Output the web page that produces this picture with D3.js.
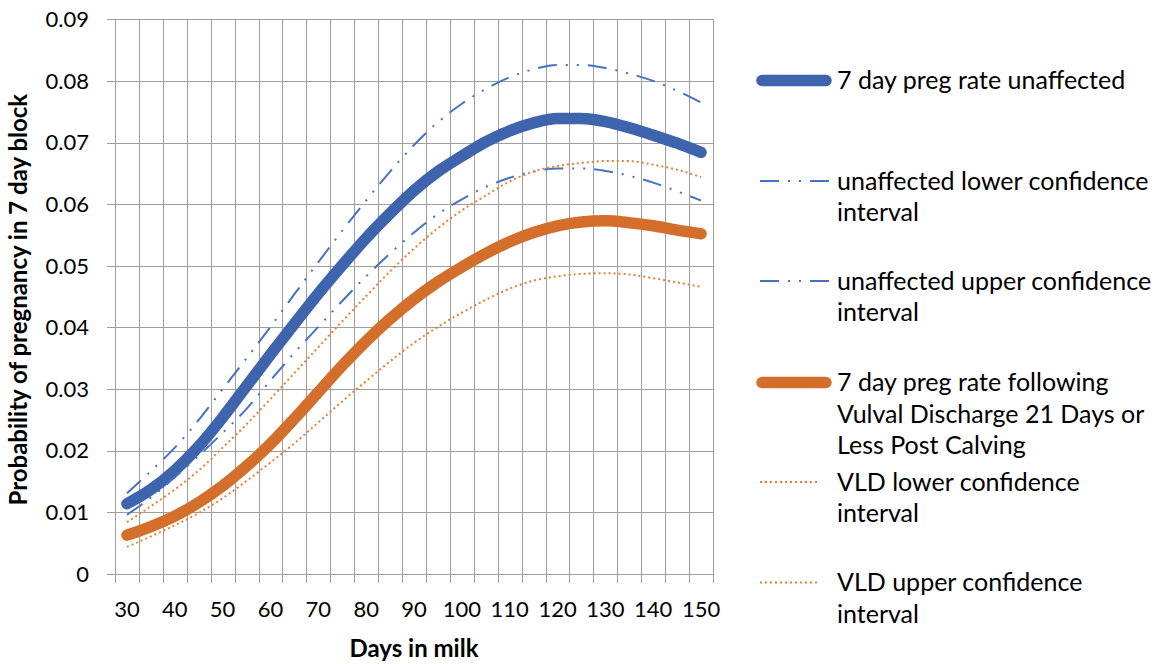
<!DOCTYPE html>
<html>
<head>
<meta charset="utf-8">
<script src="https://cdn.jsdelivr.net/npm/d3@7"></script>
<style>
  body { margin: 0; background: #fff; }
  svg { display: block; }
  text { font-family: Lato, "Open Sans", sans-serif; fill: #000; }
</style>
</head>
<body>
<svg id="chart" width="1161" height="664"></svg>
<script>
// Days in milk (one category every 5 days)
const days = [30, 35, 40, 45, 50, 55, 60, 65, 70, 75, 80, 85, 90, 95, 100, 105, 110, 115, 120, 125, 130, 135, 140, 145, 150];
const xLabels = [30, 40, 50, 60, 70, 80, 90, 100, 110, 120, 130, 140, 150];
const yTicks = [0, 0.01, 0.02, 0.03, 0.04, 0.05, 0.06, 0.07, 0.08, 0.09];

// Probability of pregnancy in a 7 day block
const unaffected      = [0.0114, 0.0137, 0.0168, 0.0207, 0.0254, 0.0305, 0.0356, 0.0406, 0.0455, 0.0501, 0.0545, 0.0585, 0.0622, 0.0653, 0.0678, 0.0701, 0.0719, 0.0732, 0.0739, 0.0739, 0.0734, 0.0724, 0.0712, 0.0699, 0.0684];
const unaffectedLower = [0.0096, 0.0124, 0.0157, 0.0192, 0.0229, 0.0268, 0.0314, 0.0359, 0.0401, 0.0443, 0.0483, 0.0520, 0.0554, 0.0584, 0.0608, 0.0628, 0.0643, 0.0653, 0.0658, 0.0658, 0.0654, 0.0646, 0.0635, 0.0621, 0.0606];
const unaffectedUpper = [0.0131, 0.0167, 0.0205, 0.0250, 0.0300, 0.0350, 0.0401, 0.0454, 0.0506, 0.0557, 0.0606, 0.0653, 0.0696, 0.0733, 0.0763, 0.0787, 0.0806, 0.0819, 0.0826, 0.0826, 0.0821, 0.0812, 0.0800, 0.0784, 0.0765];
const vld             = [0.0063, 0.0077, 0.0094, 0.0116, 0.0143, 0.0175, 0.0211, 0.0252, 0.0295, 0.0338, 0.0378, 0.0414, 0.0446, 0.0474, 0.0498, 0.0520, 0.0539, 0.0554, 0.0565, 0.0571, 0.0573, 0.0570, 0.0565, 0.0558, 0.0552];
const vldLower        = [0.0044, 0.0061, 0.0079, 0.0099, 0.0123, 0.0151, 0.0181, 0.0212, 0.0246, 0.0280, 0.0313, 0.0345, 0.0375, 0.0401, 0.0424, 0.0445, 0.0463, 0.0476, 0.0483, 0.0487, 0.0488, 0.0486, 0.0480, 0.0473, 0.0466];
const vldUpper        = [0.0084, 0.0110, 0.0137, 0.0168, 0.0205, 0.0243, 0.0284, 0.0326, 0.0368, 0.0410, 0.0451, 0.0491, 0.0528, 0.0561, 0.0590, 0.0614, 0.0637, 0.0653, 0.0662, 0.0667, 0.0670, 0.0670, 0.0664, 0.0656, 0.0644];

const legendLabels = [
  ["7 day preg rate unaffected"],
  ["unaffected lower confidence", "interval"],
  ["unaffected upper confidence", "interval"],
  ["7 day preg rate following", "Vulval Discharge 21 Days or", "Less Post Calving"],
  ["VLD lower confidence", "interval"],
  ["VLD upper confidence", "interval"]
];

// Line styles, in drawing order
const BLUE = "#3e64ad", BLUE_LIGHT = "#4472c4", ORANGE = "#d46f2b", ORANGE_LIGHT = "#ed7d31";
const DASH_DOT_DOT = "19 9 2 9 2 9";
const DOTTED = "2 3";
const series = [
  { values: unaffected,      color: BLUE,         width: 11.5, dash: null,         cap: "round" },
  { values: unaffectedLower, color: BLUE_LIGHT,   width: 2,    dash: DASH_DOT_DOT, cap: "butt" },
  { values: unaffectedUpper, color: BLUE_LIGHT,   width: 2,    dash: DASH_DOT_DOT, cap: "butt" },
  { values: vld,             color: ORANGE,       width: 11.5, dash: null,         cap: "round" },
  { values: vldLower,        color: ORANGE_LIGHT, width: 2,    dash: DOTTED,       cap: "butt" },
  { values: vldUpper,        color: ORANGE_LIGHT, width: 2,    dash: DOTTED,       cap: "butt" }
];

const svg = d3.select("#chart");
const plot = { left: 115, right: 713, top: 19.3, bottom: 574 };

const x = d3.scaleBand().domain(days).range([plot.left, plot.right]).padding(0);
const y = d3.scaleLinear().domain([0, 0.09]).range([plot.bottom, plot.top]);
const cx = d => x(d) + x.bandwidth() / 2;

const GRID = "#9f9f9f";

// Horizontal gridlines with short outside ticks on the value axis
svg.append("g").selectAll("line").data(yTicks).join("line")
  .attr("x1", plot.left - 8).attr("x2", plot.right)
  .attr("y1", d => Math.round(y(d)) + 0.5).attr("y2", d => Math.round(y(d)) + 0.5)
  .attr("stroke", GRID).attr("stroke-width", 1);

// Vertical gridlines on category boundaries, extending below the axis as ticks
const edges = days.map(d => x(d)).concat([plot.right]);
svg.append("g").selectAll("line").data(edges).join("line")
  .attr("x1", d => Math.round(d) + 0.5).attr("x2", d => Math.round(d) + 0.5)
  .attr("y1", plot.top).attr("y2", plot.bottom + 9)
  .attr("stroke", GRID).attr("stroke-width", 1);

// Value axis labels
svg.append("g").selectAll("text").data(yTicks).join("text")
  .attr("x", 89).attr("y", d => y(d))
  .attr("dy", "0.35em").attr("text-anchor", "end")
  .style("font-size", "22px")
  .text(d => d === 0 ? "0" : d3.format(".2f")(d));

// Category axis labels (every other category)
svg.append("g").selectAll("text").data(xLabels).join("text")
  .attr("x", d => cx(d)).attr("y", 609)
  .attr("dy", "0.35em").attr("text-anchor", "middle")
  .style("font-size", "22px")
  .text(d => d);

// Axis titles
svg.append("text")
  .attr("x", (plot.left + plot.right) / 2).attr("y", 649)
  .attr("dy", "0.35em").attr("text-anchor", "middle")
  .style("font-size", "24px").style("font-weight", "bold")
  .text("Days in milk");

svg.append("text")
  .attr("transform", `translate(19,${(plot.top + plot.bottom) / 2 + 3}) rotate(-90)`)
  .attr("dy", "0.35em").attr("text-anchor", "middle")
  .style("font-size", "24px").style("font-weight", "bold")
  .text("Probability of pregnancy in 7 day block");

// Series lines
const line = d3.line()
  .x((v, i) => cx(days[i]))
  .y(v => y(v))
  .curve(d3.curveMonotoneX);

svg.append("g").selectAll("path").data(series).join("path")
  .attr("d", s => line(s.values))
  .attr("fill", "none")
  .attr("stroke", s => s.color)
  .attr("stroke-width", s => s.width)
  .attr("stroke-linecap", s => s.cap)
  .attr("stroke-linejoin", "round")
  .attr("stroke-dasharray", s => s.dash);

// Legend
const legendRows = [80.5, 181, 281, 382.5, 482, 582.5];
const legend = svg.append("g").selectAll("g").data(series).join("g")
  .attr("transform", (s, i) => `translate(0,${legendRows[i]})`);

legend.append("line")
  .attr("x1", s => s.width > 5 ? 762 : 760)
  .attr("x2", s => s.dash === DOTTED ? 818 : (s.width > 5 ? 826 : 830))
  .attr("y1", 0).attr("y2", 0)
  .attr("stroke", s => s.color)
  .attr("stroke-width", s => s.width)
  .attr("stroke-linecap", s => s.cap)
  .attr("stroke-dasharray", s => s.dash);

legend.append("text")
  .style("font-size", "25px")
  .selectAll("tspan").data((s, i) => legendLabels[i]).join("tspan")
  .attr("x", 837)
  .attr("y", (t, j) => j * 31.3)
  .attr("dy", "0.35em")
  .text(t => t);
</script>
</body>
</html>
